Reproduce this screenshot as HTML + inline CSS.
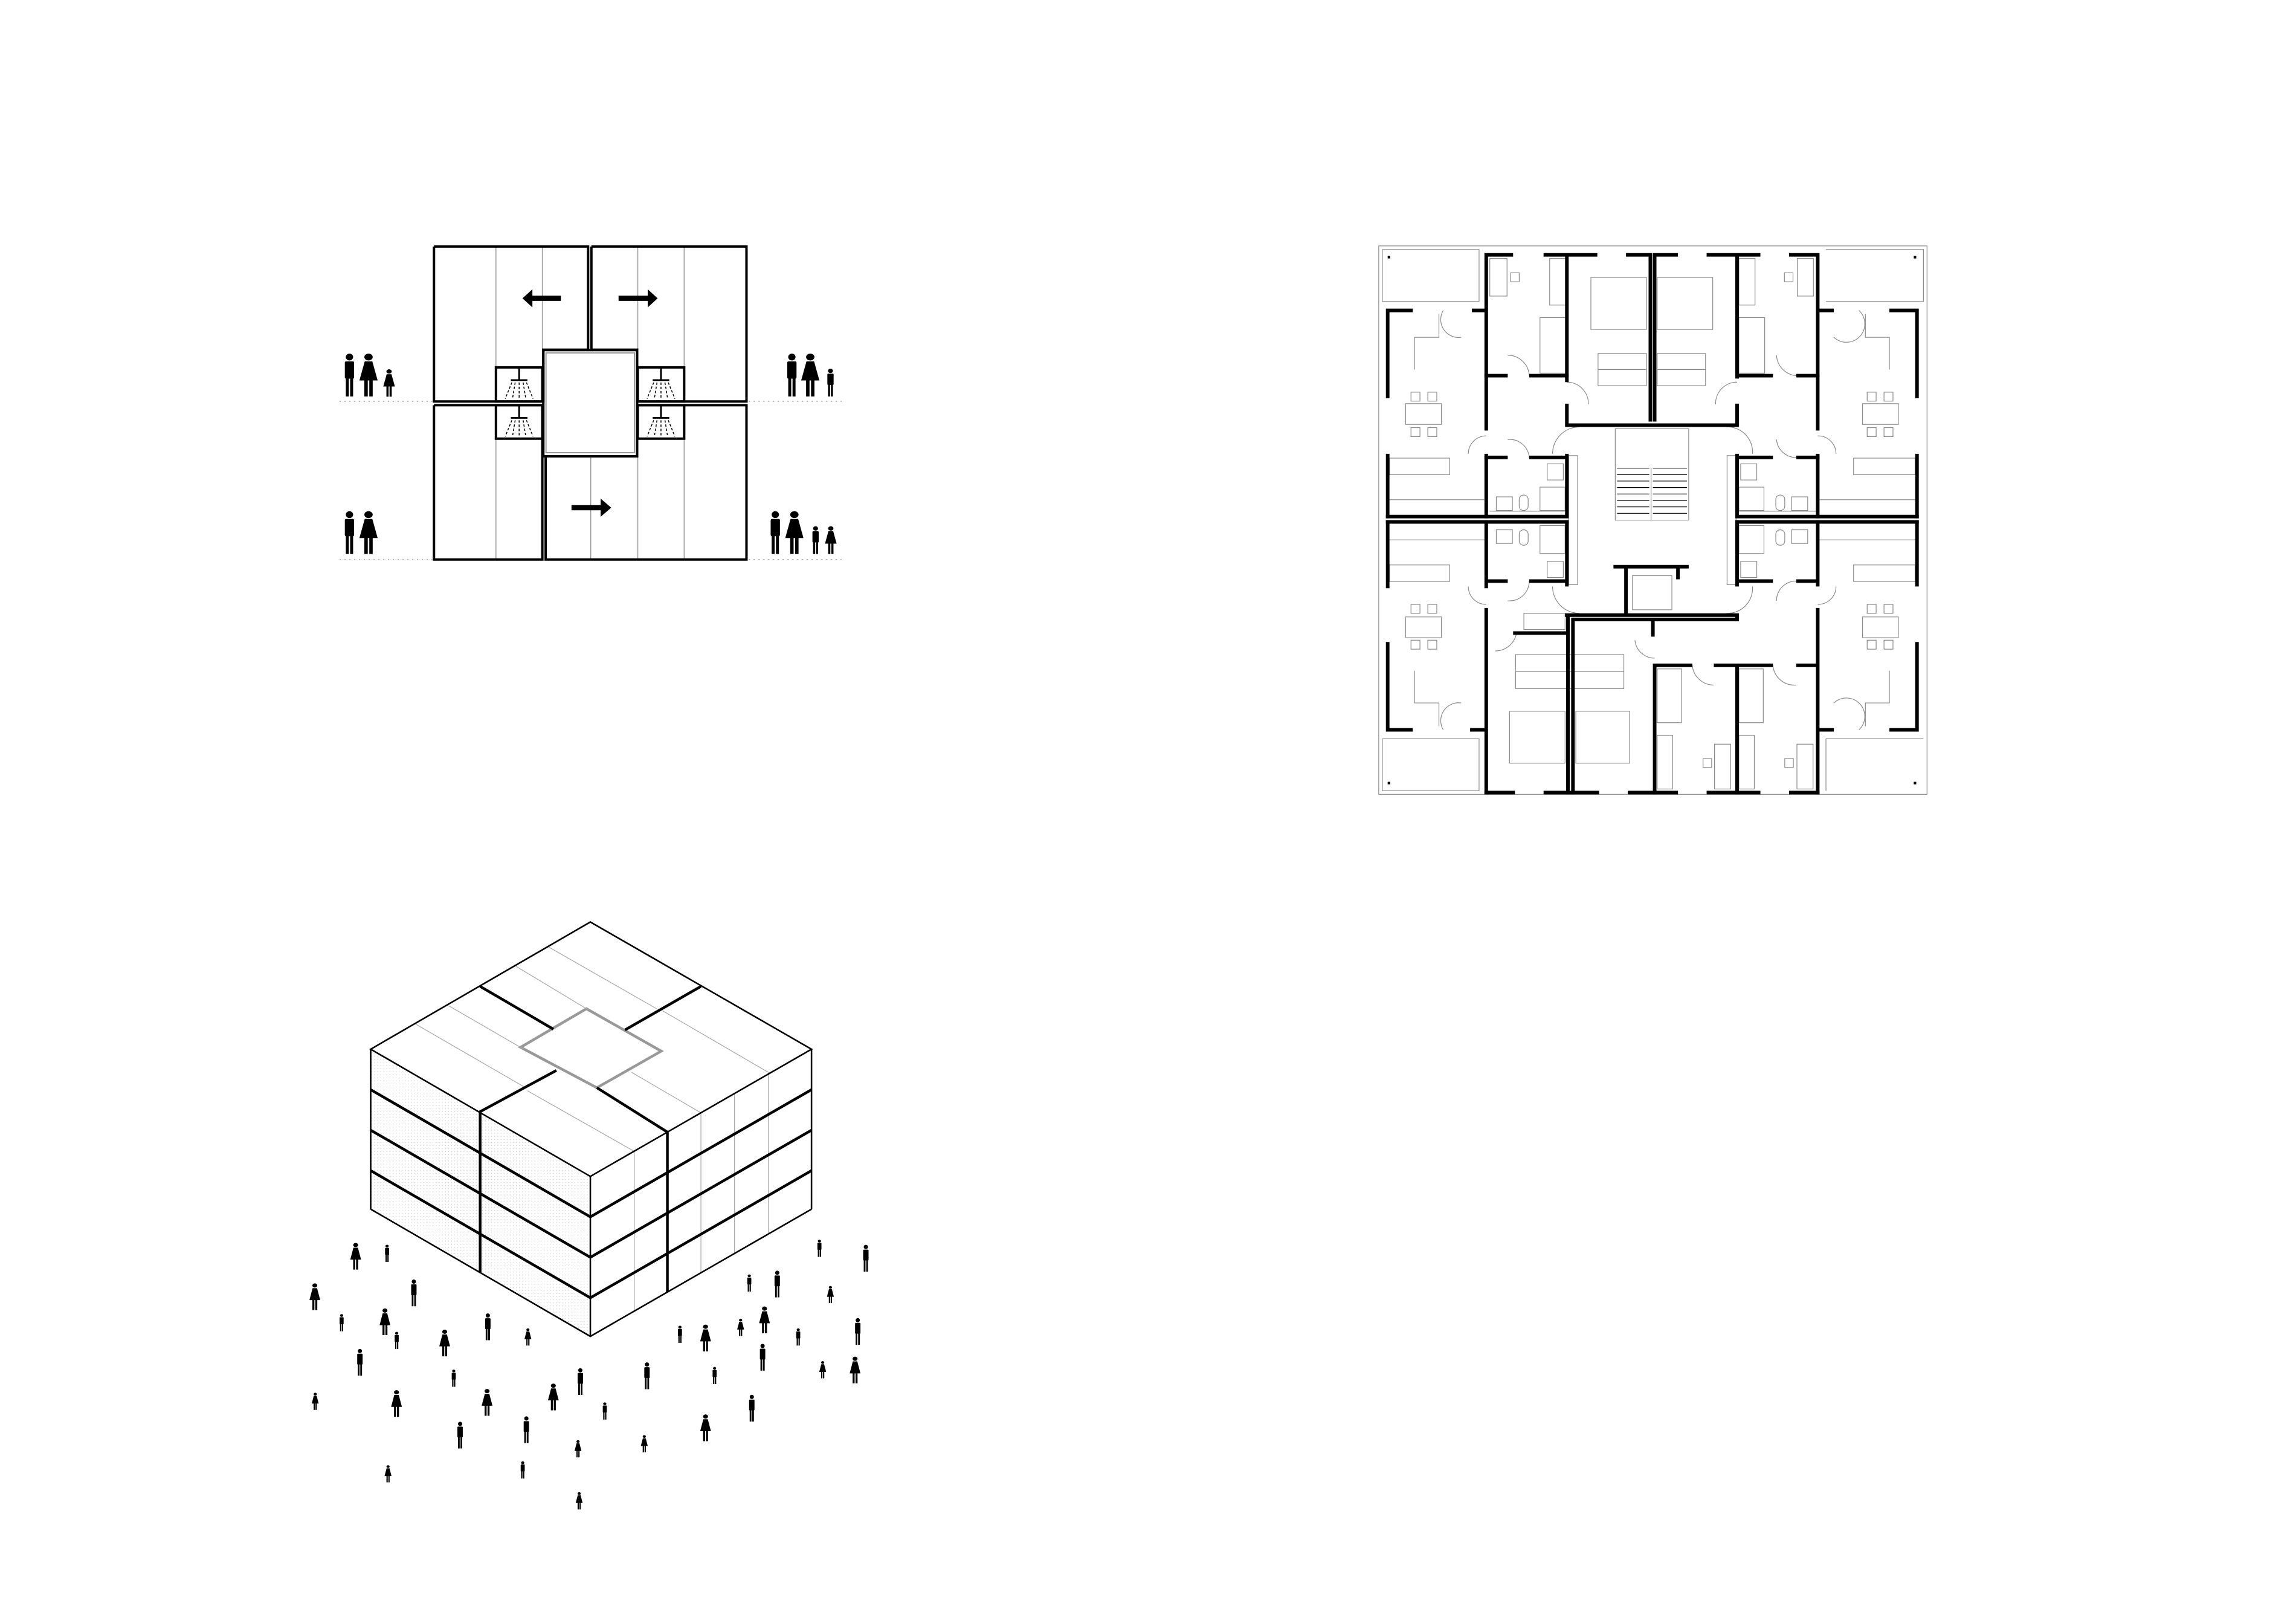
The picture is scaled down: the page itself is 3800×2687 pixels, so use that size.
<!DOCTYPE html>
<html><head><meta charset="utf-8"><style>
html,body{margin:0;padding:0;background:#fff;}
body{width:3800px;height:2687px;position:relative;overflow:hidden;}
svg{position:absolute;}
</style></head><body>
<svg width="0" height="0" style="position:absolute">
<defs>
<symbol id="man" viewBox="0 0 20 70" preserveAspectRatio="none"><circle cx="10" cy="6" r="5.5" fill="#000"/><rect x="3" y="13" width="14" height="28" rx="2" fill="#000"/><rect x="4.5" y="38" width="4.5" height="32" fill="#000"/><rect x="11" y="38" width="4.5" height="32" fill="#000"/></symbol>
<symbol id="wom" viewBox="0 0 24 70" preserveAspectRatio="none"><circle cx="12" cy="6" r="5.5" fill="#000"/><polygon points="7,13 17,13 24,44 0,44" fill="#000"/><rect x="6.5" y="42" width="4.5" height="28" fill="#000"/><rect x="13" y="42" width="4.5" height="28" fill="#000"/></symbol>
<pattern id="dots" width="8" height="8" patternUnits="userSpaceOnUse"><rect width="8" height="8" fill="#fff"/><circle cx="4" cy="4" r="1" fill="#bbb"/></pattern>
<g id="shower"><line x1="70" y1="5" x2="70" y2="55" stroke="#000" stroke-width="3" vector-effect="non-scaling-stroke"/><rect x="45" y="55" width="50" height="8" fill="#000"/><g stroke="#000" stroke-width="1.5" stroke-dasharray="4,3" vector-effect="non-scaling-stroke"><line x1="48" y1="70" x2="28" y2="145" vector-effect="non-scaling-stroke"/><line x1="58" y1="70" x2="50" y2="145" vector-effect="non-scaling-stroke"/><line x1="70" y1="70" x2="70" y2="145" vector-effect="non-scaling-stroke"/><line x1="82" y1="70" x2="90" y2="145" vector-effect="non-scaling-stroke"/><line x1="92" y1="70" x2="112" y2="145" vector-effect="non-scaling-stroke"/></g></g>
</defs>
</svg>

<!-- Diagram 1 -->
<svg style="left:540px;top:390px" width="860" height="560" viewBox="0 0 1568 1568" preserveAspectRatio="none">
<g stroke="#999" stroke-width="1.5">
<line vector-effect="non-scaling-stroke" x1="512" y1="50" x2="512" y2="768"/><line vector-effect="non-scaling-stroke" x1="652" y1="50" x2="652" y2="530"/>
<line vector-effect="non-scaling-stroke" x1="940" y1="50" x2="940" y2="530"/><line vector-effect="non-scaling-stroke" x1="1080" y1="50" x2="1080" y2="768"/>
<line vector-effect="non-scaling-stroke" x1="512" y1="785" x2="512" y2="1500"/>
<line vector-effect="non-scaling-stroke" x1="798" y1="1022" x2="798" y2="1500"/><line vector-effect="non-scaling-stroke" x1="940" y1="1022" x2="940" y2="1500"/><line vector-effect="non-scaling-stroke" x1="1080" y1="785" x2="1080" y2="1500"/>
</g>
<g stroke="#aaa" stroke-width="1.5" stroke-dasharray="2,6">
<line vector-effect="non-scaling-stroke" x1="40" y1="768" x2="320" y2="768"/><line vector-effect="non-scaling-stroke" x1="1275" y1="768" x2="1555" y2="768"/>
<line vector-effect="non-scaling-stroke" x1="40" y1="1500" x2="320" y2="1500"/><line vector-effect="non-scaling-stroke" x1="1275" y1="1500" x2="1555" y2="1500"/>
</g>
<g fill="none" stroke="#000" stroke-width="4">
<polyline vector-effect="non-scaling-stroke" points="325,50 790,50 790,528 655,528 655,768 325,768 325,50"/>
<polyline vector-effect="non-scaling-stroke" points="800,50 1268,50 1268,768 938,768 938,528 800,528 800,50"/>
<polyline vector-effect="non-scaling-stroke" points="325,785 652,785 652,1500 325,1500 325,785"/>
<polyline vector-effect="non-scaling-stroke" points="662,1022 938,1022 938,785 1268,785 1268,1500 662,1500 662,1022"/>
<rect vector-effect="non-scaling-stroke" x="655" y="530" width="283" height="492"/>
<rect vector-effect="non-scaling-stroke" x="512" y="610" width="140" height="158"/><rect vector-effect="non-scaling-stroke" x="512" y="785" width="140" height="155"/>
<rect vector-effect="non-scaling-stroke" x="940" y="610" width="140" height="158"/><rect vector-effect="non-scaling-stroke" x="940" y="785" width="140" height="155"/>
</g>
<rect vector-effect="non-scaling-stroke" x="663" y="543" width="267" height="462" fill="none" stroke="#999" stroke-width="2"/>
<use href="#shower" x="512" y="610"/><use href="#shower" x="512" y="785"/>
<use href="#shower" x="940" y="610"/><use href="#shower" x="940" y="785"/>
<polygon points="708,278 622,278 622,248 592,290 622,332 622,302 708,302" fill="#000"/>
<polygon points="882,278 970,278 970,248 1000,290 970,332 970,302 882,302" fill="#000"/>
<polygon points="740,1248 828,1248 828,1218 860,1260 828,1302 828,1272 740,1272" fill="#000"/>
<use href="#man" x="50" y="545" width="40" height="200"/><use href="#wom" x="100" y="545" width="55" height="200"/><use href="#wom" x="172" y="618" width="35" height="128"/>
<use href="#man" x="1385" y="545" width="40" height="200"/><use href="#wom" x="1433" y="545" width="55" height="200"/><use href="#man" x="1508" y="615" width="27" height="130"/>
<use href="#man" x="50" y="1275" width="40" height="200"/><use href="#wom" x="100" y="1275" width="55" height="200"/>
<use href="#man" x="1335" y="1275" width="40" height="200"/><use href="#wom" x="1385" y="1275" width="55" height="200"/><use href="#man" x="1463" y="1345" width="27" height="130"/><use href="#wom" x="1505" y="1345" width="35" height="130"/>
</svg>

<!-- Floor plan -->
<svg style="left:2270px;top:395px" width="930" height="930" viewBox="0 0 1568 1568">
<g fill="none" stroke="#888" stroke-width="2">
<rect x="20" y="20" width="1530" height="1530"/>
<polyline points="30,30 300,30 300,175 30,175 30,30"/><polyline points="1268,30 1540,30 1540,175 1268,175"/>
<polyline points="30,1395 300,1395 300,1540 30,1540 30,1395"/><polyline points="1268,1540 1268,1395 1540,1395"/>
<rect x="330" y="55" width="48" height="105"/><rect x="497" y="55" width="45" height="130"/><rect x="470" y="220" width="72" height="155"/><rect x="388" y="95" width="24" height="25"/>
<rect x="612" y="108" width="155" height="145"/><rect x="632" y="320" width="135" height="90"/><line x1="632" y1="365" x2="767" y2="365"/>
<rect x="797" y="108" width="155" height="145"/><rect x="797" y="320" width="135" height="90"/><line x1="797" y1="365" x2="932" y2="365"/>
<rect x="1188" y="55" width="45" height="105"/><rect x="1025" y="55" width="45" height="130"/><rect x="1025" y="220" width="72" height="155"/><rect x="1152" y="95" width="24" height="25"/>
<rect x="95" y="460" width="100" height="58"/><rect x="110" y="428" width="25" height="25"/><rect x="157" y="428" width="25" height="25"/><rect x="110" y="527" width="25" height="25"/><rect x="157" y="527" width="25" height="25"/>
<rect x="50" y="612" width="168" height="46"/><polyline points="188,210 188,275 120,275 120,365"/><line x1="50" y1="728" x2="315" y2="728"/>
<rect x="1370" y="460" width="100" height="58"/><rect x="1383" y="428" width="25" height="25"/><rect x="1430" y="428" width="25" height="25"/><rect x="1383" y="527" width="25" height="25"/><rect x="1430" y="527" width="25" height="25"/>
<rect x="1345" y="612" width="172" height="46"/><polyline points="1378,210 1378,275 1445,275 1445,365"/><line x1="1250" y1="728" x2="1518" y2="728"/>
<rect x="95" y="1055" width="100" height="58"/><rect x="110" y="1020" width="25" height="25"/><rect x="157" y="1020" width="25" height="25"/><rect x="110" y="1120" width="25" height="25"/><rect x="157" y="1120" width="25" height="25"/>
<rect x="50" y="910" width="168" height="46"/><polyline points="188,1360 188,1295 120,1295 120,1205"/><line x1="50" y1="840" x2="315" y2="840"/>
<rect x="1370" y="1055" width="100" height="58"/><rect x="1383" y="1020" width="25" height="25"/><rect x="1430" y="1020" width="25" height="25"/><rect x="1383" y="1120" width="25" height="25"/><rect x="1430" y="1120" width="25" height="25"/>
<rect x="1345" y="910" width="172" height="46"/><polyline points="1378,1360 1378,1295 1445,1295 1445,1205"/><line x1="1250" y1="840" x2="1518" y2="840"/>
<rect x="490" y="628" width="45" height="45"/><rect x="348" y="720" width="45" height="38"/><rect x="412" y="715" width="25" height="43" rx="12"/><rect x="470" y="693" width="70" height="65"/><line x1="330" y1="760" x2="540" y2="760"/>
<rect x="1030" y="628" width="45" height="45"/><rect x="1172" y="720" width="45" height="38"/><rect x="1128" y="715" width="25" height="43" rx="12"/><rect x="1025" y="693" width="70" height="65"/><line x1="1025" y1="760" x2="1240" y2="760"/>
<rect x="490" y="900" width="45" height="45"/><rect x="348" y="812" width="45" height="38"/><rect x="412" y="812" width="25" height="43" rx="12"/><rect x="470" y="800" width="70" height="78"/>
<rect x="1030" y="900" width="45" height="45"/><rect x="1172" y="812" width="45" height="38"/><rect x="1128" y="812" width="25" height="43" rx="12"/><rect x="1025" y="800" width="70" height="78"/>
<rect x="680" y="530" width="205" height="255"/><line x1="780" y1="640" x2="780" y2="785"/>
<rect x="728" y="940" width="110" height="95"/>
<rect x="402" y="1160" width="302" height="95"/><line x1="402" y1="1207" x2="704" y2="1207"/><line x1="565" y1="1160" x2="565" y2="1255"/>
<rect x="385" y="1318" width="155" height="145"/><rect x="570" y="1318" width="150" height="145"/>
<rect x="797" y="1200" width="68" height="150"/><rect x="957" y="1410" width="45" height="125"/><rect x="925" y="1450" width="24" height="25"/><rect x="797" y="1385" width="43" height="150"/>
<rect x="1025" y="1200" width="68" height="150"/><rect x="1187" y="1410" width="45" height="125"/><rect x="1153" y="1450" width="24" height="25"/><rect x="1025" y="1385" width="43" height="150"/>
<rect x="425" y="1045" width="115" height="45"/>
<rect x="550" y="605" width="25" height="360"/><rect x="992" y="605" width="25" height="360"/>
<path d="M270,600 A50,50 0 0 1 320,550 M505,600 A75,75 0 0 1 580,525 M1063,600 A70,70 0 0 0 990,525 M1296,600 A50,50 0 0 0 1245,550 M270,970 A50,50 0 0 0 320,1020 M505,970 A75,75 0 0 0 580,1045 M1063,970 A70,70 0 0 1 990,1045 M1296,970 A50,50 0 0 1 1245,1020"/>
<path d="M200,200 A50,50 0 0 0 250,275 M1360,200 A50,50 0 0 1 1290,275 M200,1370 A50,50 0 0 1 250,1295 M1360,1370 A50,50 0 0 0 1290,1295"/>
<path d="M380,325 A60,60 0 0 1 440,382 M380,560 A55,55 0 0 1 440,610 M1130,325 A60,60 0 0 0 1190,382 M1130,560 A55,55 0 0 0 1190,610 M545,400 A60,60 0 0 1 605,462 M1020,400 A60,60 0 0 0 960,462"/>
<path d="M380,1010 A55,55 0 0 0 440,955 M1130,1010 A55,55 0 0 1 1190,955 M345,1150 A60,60 0 0 0 405,1095 M735,1120 A55,55 0 0 0 790,1170 M895,1190 A60,60 0 0 0 955,1245 M1120,1190 A60,60 0 0 0 1185,1245"/>
</g>
<g stroke="#000" stroke-width="2">
<line x1="685" y1="640" x2="775" y2="640"/><line x1="685" y1="658" x2="775" y2="658"/><line x1="685" y1="676" x2="775" y2="676"/><line x1="685" y1="694" x2="775" y2="694"/><line x1="685" y1="712" x2="775" y2="712"/><line x1="685" y1="730" x2="775" y2="730"/><line x1="685" y1="748" x2="775" y2="748"/><line x1="685" y1="766" x2="775" y2="766"/>
<line x1="785" y1="640" x2="880" y2="640"/><line x1="785" y1="658" x2="880" y2="658"/><line x1="785" y1="676" x2="880" y2="676"/><line x1="785" y1="694" x2="880" y2="694"/><line x1="785" y1="712" x2="880" y2="712"/><line x1="785" y1="730" x2="880" y2="730"/><line x1="785" y1="748" x2="880" y2="748"/><line x1="785" y1="766" x2="880" y2="766"/>
</g>
<g fill="none" stroke="#000" stroke-width="10" stroke-linecap="square">
<path d="M45,200 V440 M45,605 V775 M45,200 H110 M285,200 H320 M320,45 V530 M320,605 V775 M320,45 H390 M485,45 H625 M715,45 H778 M545,45 V395 M545,465 V520 M778,45 V505 M790,45 V505 M545,520 H1020 M545,505 V520 M1020,465 V520 M1020,45 V385 M790,45 H850 M940,45 H1080 M1170,45 H1245 M1245,45 V530 M1245,605 V775 M1245,200 H1285 M1450,200 H1522 M1522,200 V440 M1522,605 V775"/>
<path d="M45,775 H545 M45,790 H545 M1020,775 H1522 M1020,790 H1522 M320,382 H375 M445,382 H545 M320,610 H375 M445,610 H545 M545,605 V775 M1020,382 H1115 M1190,382 H1245 M1020,610 H1115 M1190,610 H1245 M1020,605 V775"/>
<path d="M45,790 V970 M45,1130 V1370 M45,1370 H110 M280,1370 H320 M320,790 V970 M320,1035 V1545 M320,955 H375 M445,955 H545 M545,790 V965 M400,1100 H545 M548,1050 V1545 M562,1062 V1545 M545,1050 H1020 M562,1062 H1020 M1020,1050 V1062 M710,915 V1045 M680,915 H880 M855,915 V945 M785,1065 V1105 M790,1190 V1545 M790,1190 H890 M960,1190 H1115 M1190,1190 H1245 M1020,1190 V1545 M1245,1035 V1545 M1245,1370 H1285 M1450,1370 H1522 M1522,790 V965 M1522,1130 V1370 M1020,790 V965 M1020,955 H1115 M1190,955 H1245 M1245,790 V965"/>
<path d="M320,1545 H395 M485,1545 H630 M720,1545 H850 M940,1545 H1080 M1170,1545 H1245"/>
</g>
<g fill="#000"><rect x="45" y="48" width="7" height="7"/><rect x="1513" y="48" width="7" height="7"/><rect x="45" y="1515" width="7" height="7"/><rect x="1513" y="1515" width="7" height="7"/></g>
</svg>

<!-- Axonometric -->
<svg style="left:500px;top:1500px" width="1000" height="1000" viewBox="0 0 1568 1568">
<polygon points="178,370 748,700 748,1115 178,785" fill="url(#dots)"/>
<polygon points="748,700 1322,370 1322,785 748,1115" fill="#fff"/>
<polygon points="178,370 748,40 1322,370 748,700" fill="#fff"/>
<polygon points="567,365 738,265 932,375 765,470" fill="#fff" stroke="#999" stroke-width="7"/>
<g stroke="#aaa" stroke-width="2" fill="none">
<line x1="295" y1="305" x2="575" y2="467"/><line x1="380" y1="257" x2="575" y2="370"/>
<line x1="555" y1="155" x2="738" y2="265"/><line x1="640" y1="105" x2="920" y2="265"/>
<line x1="855" y1="430" x2="1035" y2="535"/><line x1="935" y1="270" x2="1210" y2="430"/>
<line x1="585" y1="478" x2="862" y2="635"/>
<line x1="862" y1="635" x2="862" y2="1050"/><line x1="1035" y1="535" x2="1035" y2="950"/><line x1="1122" y1="485" x2="1122" y2="900"/><line x1="1210" y1="430" x2="1210" y2="850"/>
</g>
<g stroke="#000" stroke-width="4" fill="none">
<polygon points="178,370 748,40 1322,370 748,700"/>
<line x1="178" y1="370" x2="178" y2="785"/><line x1="748" y1="700" x2="748" y2="1115"/><line x1="1322" y1="370" x2="1322" y2="785"/>
<polyline points="178,785 748,1115 1322,785"/>
</g>
<g stroke="#000" stroke-width="7" fill="none">
<line x1="462" y1="207" x2="652" y2="318"/><line x1="1035" y1="207" x2="838" y2="320"/>
<polyline points="660,425 462,532 462,950"/><polyline points="765,470 948,585 948,1000"/>
<polyline points="178,475 748,805 1322,475"/><polyline points="178,580 748,910 1322,580"/><polyline points="178,685 748,1015 1322,685"/>
</g>
<g>
<use href="#wom" x="125" y="872" width="28" height="70"/><use href="#man" x="213" y="877" width="15" height="45"/><use href="#wom" x="19" y="977" width="28" height="70"/><use href="#man" x="280" y="967" width="20" height="70"/><use href="#man" x="95" y="1057" width="15" height="45"/><use href="#wom" x="201" y="1042" width="28" height="70"/><use href="#man" x="238" y="1103" width="15" height="45"/><use href="#wom" x="356" y="1097" width="28" height="70"/><use href="#man" x="472" y="1055" width="20" height="70"/><use href="#wom" x="577" y="1094" width="18" height="45"/><use href="#man" x="140" y="1147" width="20" height="70"/><use href="#man" x="386" y="1201" width="15" height="45"/><use href="#wom" x="25" y="1261" width="18" height="45"/><use href="#wom" x="231" y="1254" width="28" height="70"/><use href="#wom" x="466" y="1251" width="28" height="70"/><use href="#wom" x="638" y="1237" width="28" height="70"/><use href="#man" x="712" y="1197" width="20" height="70"/><use href="#man" x="778" y="1286" width="15" height="45"/><use href="#man" x="400" y="1336" width="20" height="70"/><use href="#man" x="572" y="1322" width="20" height="70"/><use href="#wom" x="707" y="1384" width="18" height="45"/><use href="#wom" x="879" y="1371" width="18" height="45"/><use href="#man" x="885" y="1182" width="20" height="70"/><use href="#man" x="1063" y="1194" width="15" height="45"/><use href="#man" x="1157" y="1266" width="20" height="70"/><use href="#wom" x="1033" y="1317" width="28" height="70"/><use href="#wom" x="214" y="1449" width="18" height="45"/><use href="#man" x="565" y="1439" width="15" height="45"/><use href="#wom" x="710" y="1519" width="18" height="45"/><use href="#man" x="973" y="1087" width="15" height="45"/><use href="#wom" x="1033" y="1084" width="28" height="70"/><use href="#wom" x="1129" y="1069" width="18" height="45"/><use href="#wom" x="1186" y="1037" width="28" height="70"/><use href="#man" x="1280" y="1094" width="15" height="45"/><use href="#man" x="1185" y="1134" width="20" height="70"/><use href="#wom" x="1342" y="1179" width="18" height="45"/><use href="#wom" x="1421" y="1167" width="28" height="70"/><use href="#man" x="1432" y="1067" width="20" height="70"/><use href="#man" x="1153" y="954" width="15" height="45"/><use href="#man" x="1223" y="944" width="20" height="70"/><use href="#wom" x="1362" y="984" width="18" height="45"/><use href="#man" x="1335" y="864" width="15" height="45"/><use href="#man" x="1453" y="877" width="20" height="70"/>
</g>
</svg>
</body></html>
